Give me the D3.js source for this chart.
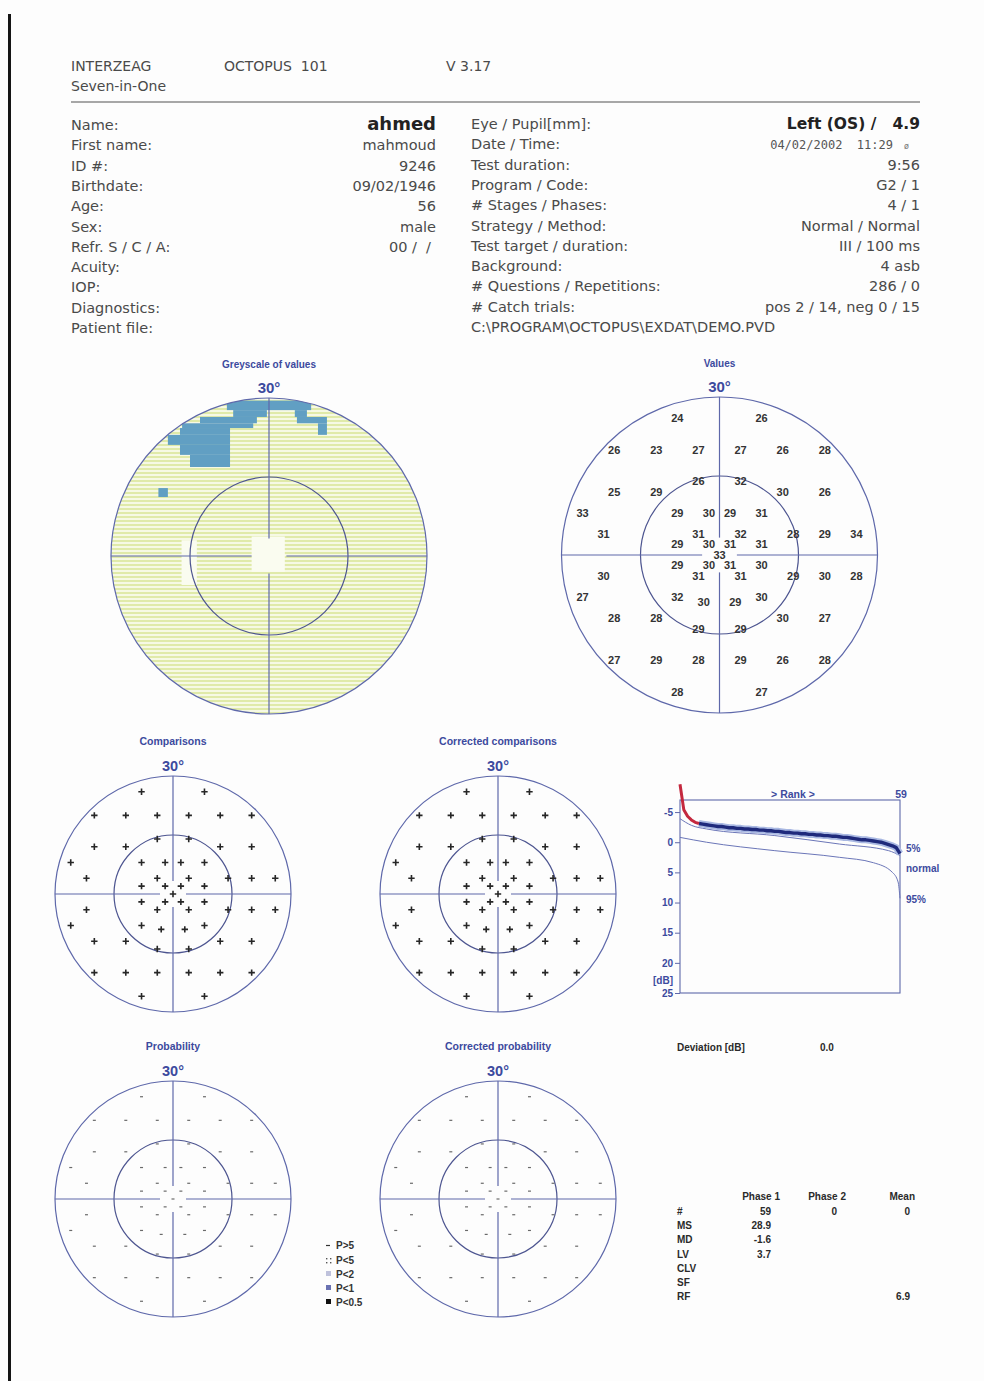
<!DOCTYPE html>
<html><head><meta charset="utf-8">
<script src="https://cdn.jsdelivr.net/npm/d3@7"></script>
<style>body{margin:0;background:#fdfdfd}svg{display:block}</style>
</head><body>
<svg id="c" width="984" height="1381"></svg>
<script>
// ---------------- DATA ----------------
const headerItems = ["INTERZEAG", "OCTOPUS  101", "V 3.17"];
const subHeader = "Seven-in-One";
const leftLabels = ["Name:","First name:","ID #:","Birthdate:","Age:","Sex:","Refr. S / C / A:","Acuity:","IOP:","Diagnostics:","Patient file:"];
const leftValues = ["ahmed","mahmoud","9246","09/02/1946","56","male","00 /  /","","","",""];
const rightLabels = ["Eye / Pupil[mm]:","Date / Time:","Test duration:","Program / Code:","# Stages / Phases:","Strategy / Method:","Test target / duration:","Background:","# Questions / Repetitions:","# Catch trials:"];
const rightValues = ["Left (OS) /   4.9","04/02/2002  11:29","9:56","G2 / 1","4 / 1","Normal / Normal","III / 100 ms","4 asb","286 / 0","pos 2 / 14, neg 0 / 15"];
const patientFile = "C:\\PROGRAM\\OCTOPUS\\EXDAT\\DEMO.PVD";

// G2 test point locations (degrees, x temporal/nasal, y up positive)
const fieldX = [-8,8, -20,-12,-4,4,12,20, -4,4, -20,-12,12,20, -26,-8,-2,2,8, -22,-4,4,14,20,26,
                -8,-2,2,8, 0, -8,-2,2,8, -22,-4,4,14,20,26, -26,-8,8, -3,3, -20,-12,12,20, -4,4,
                -20,-12,-4,4,12,20, -8,8];
const fieldY = [26,26, 20,20,20,20,20,20, 14,14, 12,12,12,12, 8,8,8,8,8, 4,4,4,4,4,4,
                2,2,2,2, 0, -2,-2,-2,-2, -4,-4,-4,-4,-4,-4, -8,-8,-8, -9,-9, -12,-12,-12,-12, -14,-14,
                -20,-20,-20,-20,-20,-20, -26,-26];
const sensitivity = [24,26, 26,23,27,27,26,28, 26,32, 25,29,30,26, 33,29,30,29,31, 31,31,32,28,29,34,
                29,30,31,31, 33, 29,30,31,30, 30,31,31,29,30,28, 27,32,30, 30,29, 28,28,30,27, 29,29,
                27,29,28,29,26,28, 28,27];

// Greyscale: depressed (blue) cells  [yTop, yBottom, xLeft, xRight] in degrees
const depTop    = [29.5, 27.7, 27.7, 26.4, 26.4, 25.2, 25.2, 24.3, 24.3, 23.0, 21.1, 19.2, 12.9];
const depBottom = [27.7, 26.4, 26.4, 25.2, 25.2, 24.3, 24.3, 23.0, 23.0, 21.1, 19.2, 16.9, 11.2];
const depLeft   = [-8.0, -6.8,  4.9,-13.1,  5.3,-16.5,  9.3,-16.9,  9.3,-19.2,-16.9,-15.0,-21.0];
const depRight  = [ 8.0, -0.4,  7.2, -2.3, 11.0, -3.0, 11.0, -7.4, 11.0, -7.4, -7.4, -7.4,-19.2];
// Greyscale: blank (white) cells: blind spot and fixation
const blankTop    = [3.0, 3.7];
const blankBottom = [-5.5, -3.0];
const blankLeft   = [-16.6, -3.3];
const blankRight  = [-13.7, 3.0];

// Cumulative defect (Bebie) curve, rank 1..59, dB
const defectCurve = [-9.6,-5.4,-4.3,-3.7,-3.3,-3.1,-3.0,-2.9,-2.8,-2.7,-2.6,-2.6,-2.5,-2.4,-2.4,-2.3,-2.3,-2.2,-2.2,-2.1,
                     -2.1,-2.0,-2.0,-1.9,-1.9,-1.8,-1.8,-1.7,-1.6,-1.6,-1.5,-1.5,-1.4,-1.4,-1.3,-1.3,-1.2,-1.2,-1.1,-1.1,
                     -1.0,-1.0,-0.9,-0.8,-0.8,-0.7,-0.6,-0.5,-0.4,-0.4,-0.3,-0.2,-0.1,0.0,0.2,0.4,0.6,0.9,1.9];
const redRanks = 6;
const upperRanks = [1, 4, 8, 26, 43, 56, 59];
const upperValues = [-3.9, -2.8, -2.2, -1.1, 0.3, 1.4, 2.2];
const lowerRanks = [1, 8, 26, 43, 52, 57, 58.5, 59];
const lowerValues = [-0.8, 0.0, 1.4, 2.5, 3.4, 5.0, 6.6, 9.3];
const rankTicks = [-5, 0, 5, 10, 15, 20, 25];
const bandLabels = ["5%", "normal", "95%"];

const deviationLabel = "Deviation [dB]", deviationValue = "0.0";
const statHeaders = ["Phase 1", "Phase 2", "Mean"];
const statRows = ["#", "MS", "MD", "LV", "CLV", "SF", "RF"];
const statPhase1 = ["59", "28.9", "-1.6", "3.7", "", "", ""];
const statPhase2 = ["0", "", "", "", "", "", ""];
const statMean = ["0", "", "", "", "", "", "6.9"];
const legendLabels = ["P>5", "P<5", "P<2", "P<1", "P<0.5"];

// ---------------- DRAW ----------------
const svg = d3.select("#c");
const BLUE = "#3c4a9e", LINE = "#5e68aa", TXT = "#4a4a4a";
const INFO_FONT = "'DejaVu Sans', sans-serif";
const BOLD_FONT = "'Liberation Sans', Arial, sans-serif";

svg.append("rect").attr("width", 984).attr("height", 1381).attr("fill", "#fdfdfd");
svg.append("line").attr("x1", 9.5).attr("x2", 9.5).attr("y1", 14).attr("y2", 1381)
  .attr("stroke", "#151515").attr("stroke-width", 3);

const defs = svg.append("defs");
const pat = defs.append("pattern").attr("id", "stripes").attr("width", 4).attr("height", 4)
  .attr("patternUnits", "userSpaceOnUse");
pat.append("rect").attr("width", 4).attr("height", 4).attr("fill", "#f6f9e4");
pat.append("rect").attr("width", 4).attr("height", 2).attr("fill", "#e0eaa9");

function txt(g, x, y, s, o = {}) {
  return g.append("text").attr("x", x).attr("y", y).text(s)
    .attr("font-family", o.font || INFO_FONT).attr("font-size", o.size || 14.5)
    .attr("font-weight", o.weight || "normal").attr("fill", o.fill || TXT)
    .attr("text-anchor", o.anchor || "start");
}

// Header
const hx = [71, 224, 446];
headerItems.forEach((s, i) => txt(svg, hx[i], 71, s, {size: 14}).style("white-space", "pre"));
txt(svg, 71, 91, subHeader, {size: 14});
svg.append("line").attr("x1", 71).attr("x2", 920).attr("y1", 102).attr("y2", 102)
  .attr("stroke", "#8a8a8a").attr("stroke-width", 1.6);

// Patient info
const rowY = i => 130 + i * 20.3;
leftLabels.forEach((s, i) => txt(svg, 71, rowY(i), s));
leftValues.forEach((s, i) => {
  if (!s) return;
  if (i === 0) txt(svg, 436, rowY(i) - 0.5, s, {size: 18, weight: "bold", fill: "#222", anchor: "end"});
  else txt(svg, i === 6 ? 431 : 436, rowY(i), s, {anchor: "end"}).style("white-space", "pre");
});
rightLabels.forEach((s, i) => txt(svg, 471, rowY(i) - 1, s));
rightValues.forEach((s, i) => {
  if (i === 0) txt(svg, 920, rowY(i) - 1, s, {size: 15.5, weight: "bold", fill: "#222", anchor: "end"})
      .style("white-space", "pre");
  else if (i === 1) {
    txt(svg, 893, rowY(i) - 1, s, {font: "'DejaVu Sans Mono', monospace", size: 12, anchor: "end", fill: "#555"})
      .style("white-space", "pre");
    txt(svg, 904, rowY(i) - 1, "ø", {size: 8, fill: "#777"});
  }
  else txt(svg, 920, rowY(i) - 1, s, {anchor: "end"});
});
txt(svg, 471, rowY(10) - 1, patientFile);

// Visual field panels
function field(cx, cy, R, title, big) {
  const g = svg.append("g");
  const x = d3.scaleLinear().domain([-30, 30]).range([cx - R, cx + R]);
  const y = d3.scaleLinear().domain([-30, 30]).range([cy + R, cy - R]);
  const r = d => x(d) - x(0);
  txt(g, cx, cy - R - (big ? 30 : 31), title, {font: BOLD_FONT, weight: "bold", size: big ? 10 : 10.5, fill: BLUE, anchor: "middle"});
  txt(g, cx, cy - R - 5, "30°", {font: BOLD_FONT, weight: "bold", size: big ? 15 : 14.5, fill: BLUE, anchor: "middle"});
  return {g, x, y, r, cx, cy, R};
}
function frame(f) {
  const {g, x, y, r} = f;
  const gap = 3.3;
  g.append("circle").attr("cx", x(0)).attr("cy", y(0)).attr("r", r(30))
    .attr("fill", "none").attr("stroke", LINE).attr("stroke-width", 1.2);
  g.append("circle").attr("cx", x(0)).attr("cy", y(0)).attr("r", r(15))
    .attr("fill", "none").attr("stroke", "#4d5590").attr("stroke-width", 1.2);
  const segs = [[-30, -gap], [gap, 30]];
  segs.forEach(s => {
    g.append("line").attr("x1", x(s[0])).attr("x2", x(s[1])).attr("y1", y(0)).attr("y2", y(0))
      .attr("stroke", LINE).attr("stroke-width", 1.2);
    g.append("line").attr("y1", y(s[0])).attr("y2", y(s[1])).attr("x1", x(0)).attr("x2", x(0))
      .attr("stroke", LINE).attr("stroke-width", 1.2);
  });
}
const pts = fieldX.map((d, i) => ({x: d, y: fieldY[i], v: sensitivity[i]}));

// Greyscale
const gs = field(269, 556, 158, "Greyscale of values", true);
defs.append("clipPath").attr("id", "gsclip").append("circle")
  .attr("cx", gs.x(0)).attr("cy", gs.y(0)).attr("r", gs.r(30));
const gsFill = gs.g.append("g").attr("clip-path", "url(#gsclip)");
gsFill.append("circle").attr("cx", gs.x(0)).attr("cy", gs.y(0)).attr("r", gs.r(30)).attr("fill", "url(#stripes)");
gsFill.selectAll("rect.dep").data(depTop.map((t, i) => ({t, b: depBottom[i], l: depLeft[i], r: depRight[i]})))
  .join("rect").attr("class", "dep")
  .attr("x", d => gs.x(d.l)).attr("width", d => gs.x(d.r) - gs.x(d.l))
  .attr("y", d => gs.y(d.t)).attr("height", d => gs.y(d.b) - gs.y(d.t))
  .attr("fill", "#619fc3");
gsFill.selectAll("rect.blank").data(blankTop.map((t, i) => ({t, b: blankBottom[i], l: blankLeft[i], r: blankRight[i]})))
  .join("rect").attr("class", "blank")
  .attr("x", d => gs.x(d.l)).attr("width", d => gs.x(d.r) - gs.x(d.l))
  .attr("y", d => gs.y(d.t)).attr("height", d => gs.y(d.b) - gs.y(d.t))
  .attr("fill", "#fafcf0");
frame(gs);

// Values
const vs = field(719.5, 555, 158, "Values", true);
frame(vs);
vs.g.selectAll("text.v").data(pts).join("text").attr("class", "v")
  .attr("x", d => vs.x(d.x)).attr("y", d => vs.y(d.y)).attr("dy", "0.36em")
  .attr("text-anchor", "middle").attr("font-family", BOLD_FONT).attr("font-weight", "bold")
  .attr("font-size", 11).attr("fill", "#333").text(d => d.v);

// Comparisons
function plusPanel(cx, cy, title) {
  const f = field(cx, cy, 118, title, false);
  frame(f);
  f.g.selectAll("path.p").data(pts).join("path").attr("class", "p")
    .attr("d", d => `M${f.x(d.x) - 3.2},${f.y(d.y)}h6.4M${f.x(d.x)},${f.y(d.y) - 3.2}v6.4`)
    .attr("stroke", "#262626").attr("stroke-width", 1.6);
}
plusPanel(173, 894, "Comparisons");
plusPanel(498, 894, "Corrected comparisons");

function probPanel(cx, cy, title) {
  const f = field(cx, cy, 118, title, false);
  frame(f);
  f.g.selectAll("path.p").data(pts).join("path").attr("class", "p")
    .attr("d", d => `M${f.x(d.x) - 1.5},${f.y(d.y)}h3`)
    .attr("stroke", "#6a6a6a").attr("stroke-width", 1.2);
}
probPanel(173, 1199, "Probability");
probPanel(498, 1199, "Corrected probability");

// Legend
const legY = [1249, 1264, 1278, 1292, 1306];
const lg = svg.append("g");
legendLabels.forEach((s, i) => txt(lg, 336, legY[i], s, {font: BOLD_FONT, weight: "bold", size: 10, fill: "#333"}));
lg.append("path").attr("d", `M326,${legY[0] - 3.5}h4`).attr("stroke", "#333").attr("stroke-width", 1.2);
[[326, -6], [330, -6], [326, -2], [330, -2]].forEach(p =>
  lg.append("rect").attr("x", p[0]).attr("y", legY[1] + p[1]).attr("width", 1.4).attr("height", 1.4).attr("fill", "#555"));
["#bfc2dc", "#6a72b2", "#111"].forEach((c, i) =>
  lg.append("rect").attr("x", 326).attr("y", legY[i + 2] - 7).attr("width", 5).attr("height", 5).attr("fill", c));

// Rank (cumulative defect) curve
const rx = d3.scaleLinear().domain([1, 59]).range([680, 900]);
const ry = d3.scaleLinear().domain([-7, 25]).range([800, 993]);
const rk = svg.append("g");
rk.append("rect").attr("x", rx(1)).attr("y", ry(-7)).attr("width", rx(59) - rx(1)).attr("height", ry(25) - ry(-7))
  .attr("fill", "none").attr("stroke", LINE).attr("stroke-width", 1.1);
const ax = rk.append("g").attr("transform", `translate(${rx(1)},0)`)
  .call(d3.axisLeft(ry).tickValues(rankTicks).tickSize(5).tickPadding(2).tickFormat(d => String(d)));
ax.select(".domain").remove();
ax.selectAll("line").attr("stroke", LINE);
ax.selectAll("text").attr("fill", BLUE).attr("font-family", BOLD_FONT).attr("font-weight", "bold").attr("font-size", 10);
txt(rk, 673, 984, "[dB]", {font: BOLD_FONT, weight: "bold", size: 10, fill: BLUE, anchor: "end"});
txt(rk, 793, 798, "> Rank >", {font: BOLD_FONT, weight: "bold", size: 10.5, fill: BLUE, anchor: "middle"});
txt(rk, rx(59) + 1, 798, "59", {font: BOLD_FONT, weight: "bold", size: 10.5, fill: BLUE, anchor: "middle"});
const bandY = [852, 872, 903];
bandLabels.forEach((s, i) => txt(rk, 906, bandY[i], s, {font: BOLD_FONT, weight: "bold", size: 10, fill: BLUE}));

const ln = d3.line().x(d => rx(d.r)).y(d => ry(d.v)).curve(d3.curveMonotoneX);
const up = upperRanks.map((r, i) => ({r, v: upperValues[i]}));
const lo = lowerRanks.map((r, i) => ({r, v: lowerValues[i]}));
rk.append("path").attr("d", ln(up)).attr("fill", "none").attr("stroke", "#6b76b8").attr("stroke-width", 1);
rk.append("path").attr("d", ln(lo)).attr("fill", "none").attr("stroke", "#6b76b8").attr("stroke-width", 1);
const dc = defectCurve.map((v, i) => ({r: i + 1, v}));
const blueSeg = dc.slice(redRanks - 1), redSeg = dc.slice(0, redRanks);
const ln2 = d3.line().x(d => rx(d.r)).y(d => ry(d.v));
rk.append("path").attr("d", ln2(blueSeg)).attr("fill", "none").attr("stroke", "#a9b8e2").attr("stroke-width", 7).attr("stroke-linejoin", "round");
rk.append("path").attr("d", ln2(blueSeg)).attr("fill", "none").attr("stroke", "#1f2a7c").attr("stroke-width", 3.4).attr("stroke-linejoin", "round");
rk.append("path").attr("d", ln2(redSeg)).attr("fill", "none").attr("stroke", "#c4283e").attr("stroke-width", 3).attr("stroke-linejoin", "round");

// Deviation and statistics
const st = svg.append("g");
const SB = {font: BOLD_FONT, weight: "bold", size: 10, fill: "#2a2a2a"};
txt(st, 677, 1051, deviationLabel, SB);
txt(st, 820, 1051, deviationValue, SB);
const hdrX = [780, 846, 915];
statHeaders.forEach((s, i) => txt(st, hdrX[i], 1200, s, {...SB, anchor: "end"}));
const statY = i => 1215 + i * 14.2;
statRows.forEach((s, i) => txt(st, 677, statY(i), s, SB));
const colX = [771, 837, 910];
[statPhase1, statPhase2, statMean].forEach((col, c) =>
  col.forEach((s, i) => { if (s) txt(st, colX[c], statY(i), s, {...SB, anchor: "end"}); }));
</script>
</body></html>
